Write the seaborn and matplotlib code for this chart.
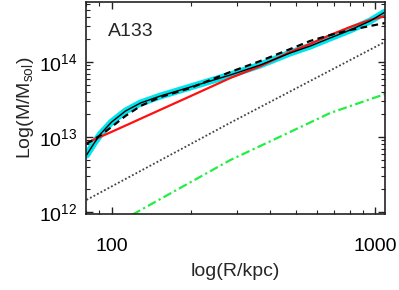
import matplotlib
matplotlib.use("Agg")
import matplotlib.pyplot as plt
import seaborn as sns
import numpy as np
from matplotlib.ticker import LogLocator, NullFormatter, FixedLocator, FixedFormatter

# data (R in kpc, M in solar masses)
r_grid = [80.4, 85.5, 90.9, 100, 113, 128.8, 153.3, 199.2, 282.3, 366.7, 476.5, 567.4, 675.3, 804, 957, 1091]

m_total = [5.75e12, 8.07e12, 1.10e13, 1.58e13, 2.22e13, 2.84e13, 3.52e13, 4.64e13,
           6.71e13, 9.12e13, 1.32e14, 1.63e14, 2.09e14, 2.67e14, 3.52e14, 4.64e14]

r_red = [80.4, 90.9, 100, 113, 128.8, 153.3, 199.2, 282.3, 366.7, 476.5, 567.4, 675.3, 804, 957, 1091]
m_red = [8.32e12, 1.01e13, 1.17e13, 1.42e13, 1.75e13, 2.31e13, 3.50e13, 6.12e13,
         8.8e13, 1.36e14, 1.74e14, 2.29e14, 2.93e14, 3.63e14, 4.1e14]

r_dash = [80.4, 90.9, 100, 113, 128.8, 153.3, 199.2, 282.3, 366.7, 476.5, 567.4, 675.3, 804, 957, 1091]
m_dash = [8.07e12, 1.06e13, 1.36e13, 1.91e13, 2.59e13, 3.41e13, 4.5e13, 7.36e13,
          1.03e14, 1.49e14, 1.91e14, 2.29e14, 2.67e14, 3.02e14, 3.31e14]

r_dot = [80.4, 282.3, 1091]
m_dot = [1.45e12, 1.55e13, 1.86e14]

r_green = [80.4, 121.2, 182.5, 282.3, 476.5, 675.3, 1091]
m_green = [4.0e11, 9.4e11, 2.1e12, 4.93e12, 1.17e13, 2.09e13, 3.74e13]

x_ticks = [100, 1000]
x_ticklabels = ["100", "1000"]
label_text = "A133"

sns.set_style("ticks")
plt.rcParams['font.family'] = ['Liberation Sans', 'DejaVu Sans']
plt.rcParams['mathtext.fontset'] = 'custom'
plt.rcParams['mathtext.rm'] = 'Liberation Sans'
plt.rcParams['mathtext.it'] = 'Liberation Sans:italic'

fig = plt.figure(figsize=(3.99, 2.90), dpi=100)
ax = fig.add_axes([0.2155, 0.262, 0.7495, 0.731])

kw = dict(ax=ax, estimator=None, sort=True)
sns.lineplot(x=r_grid, y=m_total, color="#00e4ee", lw=5.0, solid_capstyle="round",
             solid_joinstyle="round", **kw)
sns.lineplot(x=r_red, y=m_red, color="#ff1010", lw=1.6, solid_joinstyle="round", **kw)
sns.lineplot(x=r_grid, y=m_total, color="black", lw=1.0, solid_joinstyle="round", **kw)
sns.lineplot(x=r_dash, y=m_dash, color="black", lw=1.6, linestyle=(0, (3, 2)), **kw)
sns.lineplot(x=r_dot, y=m_dot, color="#444444", lw=1.3, linestyle=(0, (1, 1.2)), **kw)
sns.lineplot(x=r_green, y=m_green, color="#22ee44", lw=1.6, linestyle=(0, (4, 1.5, 1, 1.5)), **kw)

ax.set_xscale("log")
ax.set_yscale("log")
ax.set_xlim(80, 1090)
ax.set_ylim(9.4e11, 6.3e14)

ax.xaxis.set_major_locator(FixedLocator(x_ticks))
ax.xaxis.set_major_formatter(FixedFormatter(x_ticklabels))
ax.xaxis.set_minor_locator(LogLocator(base=10, subs=np.arange(2, 10)))
ax.xaxis.set_minor_formatter(NullFormatter())
ax.yaxis.set_major_locator(LogLocator(base=10, numticks=10))
ax.yaxis.set_minor_locator(LogLocator(base=10, subs=np.arange(2, 10), numticks=20))
ax.yaxis.set_minor_formatter(NullFormatter())

ax.tick_params(which="both", direction="in", top=True, right=True, colors="#222222", labelcolor="black")
ax.tick_params(which="major", length=5, width=1.0, labelsize=14)
ax.tick_params(which="minor", length=3, width=0.8)
ax.tick_params(axis="x", which="major", pad=17)
ax.tick_params(axis="y", which="major", pad=6)

for s in ax.spines.values():
    s.set_linewidth(1.2)
    s.set_color("#222222")

ax.set_xlabel("log(R/kpc)", fontsize=14, labelpad=6)
ax.set_ylabel("Log(M/M$_{\\rm sol}$)", fontsize=14, labelpad=2)
ax.text(0.074, 0.863, label_text, transform=ax.transAxes, fontsize=14, va="center", ha="left")

fig.savefig("out.png", dpi=100)
